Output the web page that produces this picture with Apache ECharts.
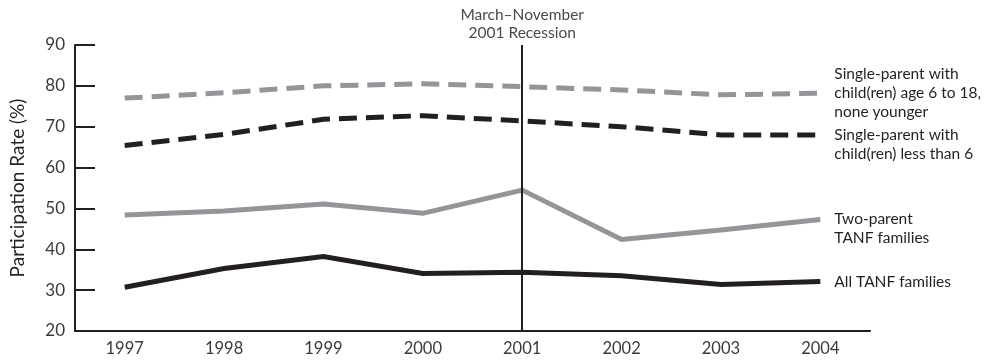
<!DOCTYPE html>
<html><head><meta charset="utf-8">
<script src="https://cdn.jsdelivr.net/npm/echarts@6/dist/echarts.min.js"></script>
<style>html,body{margin:0;padding:0;background:#fff}#c{width:997px;height:362px}</style>
</head><body><div id="c"></div>
<script>
const years = ['1997','1998','1999','2000','2001','2002','2003','2004'];
const singleOlder = [77.0, 78.3, 80.0, 80.5, 79.8, 79.0, 77.8, 78.2];
const singleYoung = [65.4, 68.1, 71.8, 72.7, 71.4, 70.0, 68.0, 68.0];
const twoParent = [48.4, 49.4, 51.1, 48.8, 54.5, 42.4, 44.7, 47.3];
const allTanf = [30.7, 35.3, 38.2, 34.1, 34.4, 33.5, 31.4, 32.1];
const yTicks = [20, 30, 40, 50, 60, 70, 80, 90];
const recessionYear = '2001';

const BLACK = '#231f20', GRAY = '#939598';
const FONT = 'Lato, "Open Sans", sans-serif';

function lineSeries(name, data, color, dashed, label, offsetY) {
  return {
    name, type: 'line', data, symbol: 'none', silent: true,
    lineStyle: { color, width: 5, type: dashed ? [18, 9] : 'solid', cap: 'butt', join: 'miter' },
    endLabel: { show: true, formatter: label, distance: 14, offset: [0, offsetY],
      color: BLACK, fontFamily: FONT, fontSize: 15.5, lineHeight: 19, align: 'left' },
    z: 3
  };
}

const chart = echarts.init(document.getElementById('c'), null, { renderer: 'canvas' });
chart.setOption({
  animation: false,
  grid: { left: 73, right: 127, top: 45, bottom: 31 },
  xAxis: {
    type: 'category', data: years, boundaryGap: true,
    axisLine: { lineStyle: { color: BLACK, width: 2 } },
    axisTick: { inside: true, alignWithLabel: true, length: 6, lineStyle: { color: BLACK, width: 2 } },
    axisLabel: { color: '#3a3a3a', fontFamily: FONT, fontSize: 16.5, margin: 9 },
    splitLine: { show: false }
  },
  yAxis: {
    type: 'value', min: 20, max: 90, interval: 10,
    name: 'Participation Rate (%)', nameLocation: 'middle', nameRotate: 90, nameGap: 48,
    nameTextStyle: { color: BLACK, fontFamily: FONT, fontSize: 19 },
    axisLine: { show: true, lineStyle: { color: BLACK, width: 2 } },
    axisTick: { show: true, inside: true, length: 20, lineStyle: { color: BLACK, width: 2 } },
    axisLabel: { color: '#3a3a3a', fontFamily: FONT, fontSize: 17, margin: 10,
      formatter: v => yTicks.includes(v) ? String(v) : '' },
    splitLine: { show: false }
  },
  series: [
    Object.assign(lineSeries('older', singleOlder, GRAY, true,
      'Single-parent with\nchild(ren) age 6 to 18,\nnone younger', 0), {
      markLine: {
        silent: true, symbol: 'none',
        lineStyle: { color: BLACK, width: 2, type: 'solid' },
        label: { show: true, position: 'end', formatter: 'March–November\n2001 Recession',
          color: '#4a4a4a', fontFamily: FONT, fontSize: 15.5, lineHeight: 18, distance: 3 },
        data: [{ xAxis: recessionYear }]
      }
    }),
    lineSeries('young', singleYoung, BLACK, true, 'Single-parent with\nchild(ren) less than 6', 10),
    lineSeries('two', twoParent, GRAY, false, 'Two-parent\nTANF families', 9),
    lineSeries('all', allTanf, BLACK, false, 'All TANF families', 0)
  ]
});
</script></body></html>
